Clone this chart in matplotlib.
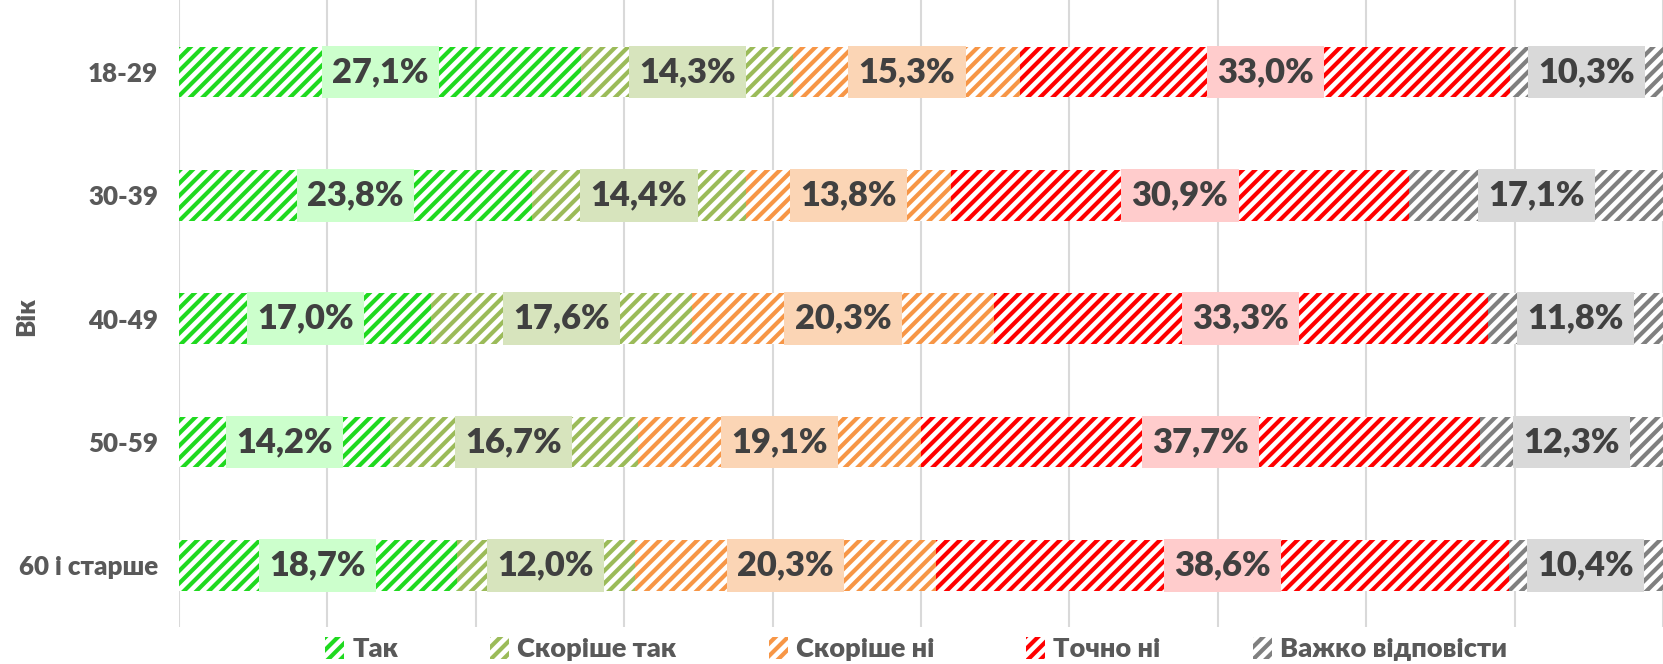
import matplotlib
matplotlib.use("Agg")
import matplotlib.pyplot as plt
import numpy as np

categories = ["18-29", "30-39", "40-49", "50-59", "60 і старше"]
series_names = ["Так", "Скоріше так", "Скоріше ні", "Точно ні", "Важко відповісти"]
tak = [27.1, 23.8, 17.0, 14.2, 18.7]
skorishe_tak = [14.3, 14.4, 17.6, 16.7, 12.0]
skorishe_ni = [15.3, 13.8, 20.3, 19.1, 20.3]
tochno_ni = [33.0, 30.9, 33.3, 37.7, 38.6]
vazhko = [10.3, 17.1, 11.8, 12.3, 10.4]
series = [tak, skorishe_tak, skorishe_ni, tochno_ni, vazhko]

hatch_colors = ["#1FD91F", "#9BBB59", "#F79646", "#FF0000", "#808080"]
box_colors = ["#CCFFCC", "#D7E4BD", "#FBD5B5", "#FFCCCC", "#D9D9D9"]

plt.rcParams['font.family'] = ['Lato', 'DejaVu Sans']
plt.rcParams['hatch.linewidth'] = 2.0

W, H, DPI = 1663, 664, 150
fig = plt.figure(figsize=(W / DPI, H / DPI), dpi=DPI)
left_px = 179
px_per10 = 149.5
xmax = (W - left_px) / px_per10 * 10
ax = fig.add_axes([left_px / W, (H - 627) / H, 1 - left_px / W, 627 / H])

y = np.arange(len(categories))
left = np.zeros(len(categories))
handles = []
for vals, name, hc, bc in zip(series, series_names, hatch_colors, box_colors):
    vals = np.array(vals)
    bars = ax.barh(y, vals, left=left, height=0.41, color="white", edgecolor=hc,
                   hatch="////", linewidth=0, zorder=2, label=name)
    handles.append(bars)
    for yi, (l, v) in enumerate(zip(left, vals)):
        ax.text(l + v / 2, yi, f"{v:.1f}%".replace(".", ","), ha="center", va="center",
                fontsize=16.5, fontweight="heavy", color="#404040", zorder=4,
                bbox=dict(boxstyle="square,pad=0.3", facecolor=bc, edgecolor="none"))
    left = left + vals

ax.set_xlim(0, xmax)
ax.set_ylim(len(categories) - 0.5, -0.585)
ax.set_xticks(np.arange(0, 101, 10))
ax.xaxis.grid(True, color="#D9D9D9", linewidth=1.0, zorder=0)
ax.set_axisbelow(True)
ax.tick_params(axis="x", length=0, labelbottom=False)
ax.tick_params(axis="y", length=0, pad=10)
ax.set_yticks(y)
ax.set_yticklabels(categories, fontsize=12.5, fontweight="heavy", color="#595959")
for s in ax.spines.values():
    s.set_visible(False)

fig.text(26 / W, 1 - 317 / H, "Вік", rotation=90, ha="center", va="center",
         fontsize=12.5, fontweight="heavy", color="#595959")

leg = fig.legend(handles=handles, labels=series_names, loc="center",
                 bbox_to_anchor=(916 / W, 1 - 649 / H), ncol=5, frameon=False,
                 fontsize=13, handlelength=0.7, handleheight=0.9, handletextpad=0.3,
                 columnspacing=3.4)
for t in leg.get_texts():
    t.set_fontweight("heavy")
    t.set_color("#595959")

fig.savefig("out.png", dpi=DPI)
